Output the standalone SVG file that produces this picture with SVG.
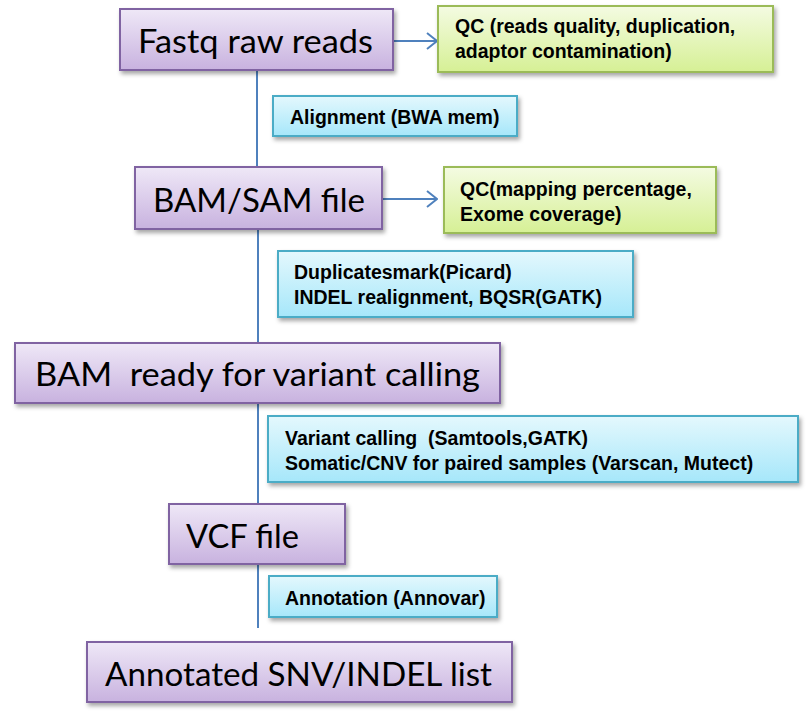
<svg xmlns="http://www.w3.org/2000/svg" width="807" height="714" viewBox="0 0 807 714">
<defs>
<linearGradient id="gp" x1="0" y1="0" x2="0" y2="1"><stop offset="0" stop-color="#efe8f7"/><stop offset="1" stop-color="#c8b2df"/></linearGradient>
<linearGradient id="gg" x1="0" y1="0" x2="0" y2="1"><stop offset="0" stop-color="#f4fbe2"/><stop offset="1" stop-color="#d6f095"/></linearGradient>
<linearGradient id="gb" x1="0" y1="0" x2="0" y2="1"><stop offset="0" stop-color="#e4f8fd"/><stop offset="1" stop-color="#a6e7fa"/></linearGradient>
<filter id="sh" x="-10%" y="-20%" width="120%" height="150%"><feDropShadow dx="2" dy="3" stdDeviation="2" flood-color="#000" flood-opacity="0.35"/></filter>
<marker id="chev" viewBox="0 0 12 18" refX="11" refY="9" markerWidth="12" markerHeight="18" markerUnits="userSpaceOnUse" orient="auto"><path d="M1,1 L11,9 L1,17" fill="none" stroke="#4f81bd" stroke-width="2"/></marker>
</defs>
<style>
.p{fill:url(#gp);stroke:#8064a2;stroke-width:2;filter:url(#sh)}
.g{fill:url(#gg);stroke:#9bbb59;stroke-width:2;filter:url(#sh)}
.b{fill:url(#gb);stroke:#4bacc6;stroke-width:2;filter:url(#sh)}
.big{font-family:Lato,"Open Sans",sans-serif;font-size:33px;fill:#000;white-space:pre}
.sm{font-family:"Liberation Sans",Arial,sans-serif;font-weight:bold;font-size:19.5px;fill:#000;white-space:pre}
.c{stroke:#4f81bd;stroke-width:2;fill:none}
</style>
<g id="connectors">
<line class="c" x1="257" y1="70" x2="257" y2="167"/>
<line class="c" x1="258" y1="229" x2="258" y2="343"/>
<line class="c" x1="258" y1="403" x2="258" y2="504"/>
<line class="c" x1="258" y1="564" x2="258" y2="628"/>
<line class="c" x1="393" y1="41" x2="437" y2="41" marker-end="url(#chev)"/>
<line class="c" x1="382" y1="199" x2="437" y2="199" marker-end="url(#chev)"/>
</g>
<g id="n-fastq"><rect class="p" x="120" y="9" width="273" height="61"/><text class="big" x="138" y="53" textLength="235" lengthAdjust="spacingAndGlyphs">Fastq raw reads</text></g>
<g id="n-qc1"><rect class="g" x="438" y="6" width="335" height="66"/><text class="sm" x="455" y="33">QC (reads quality, duplication,</text><text class="sm" x="455" y="58">adaptor contamination)</text></g>
<g id="n-align"><rect class="b" x="273" y="96" width="244" height="40"/><text class="sm" x="290" y="124">Alignment (BWA mem)</text></g>
<g id="n-bamsam"><rect class="p" x="135" y="167" width="247" height="62"/><text class="big" x="153" y="212" textLength="212" lengthAdjust="spacingAndGlyphs">BAM/SAM file</text></g>
<g id="n-qc2"><rect class="g" x="444" y="167" width="272" height="66"/><text class="sm" x="460" y="196">QC(mapping percentage,</text><text class="sm" x="460" y="221">Exome coverage)</text></g>
<g id="n-dup"><rect class="b" x="278" y="251" width="355" height="66"/><text class="sm" x="294" y="279">Duplicatesmark(Picard)</text><text class="sm" x="294" y="304">INDEL realignment, BQSR(GATK)</text></g>
<g id="n-bamready"><rect class="p" x="15" y="343" width="485" height="60"/><text class="big" x="35" y="386" textLength="445" lengthAdjust="spacingAndGlyphs">BAM  ready for variant calling</text></g>
<g id="n-variant"><rect class="b" x="268" y="416" width="530" height="66"/><text class="sm" x="285" y="445">Variant calling  (Samtools,GATK)</text><text class="sm" x="285" y="470">Somatic/CNV for paired samples (Varscan, Mutect)</text></g>
<g id="n-vcf"><rect class="p" x="169" y="504" width="176" height="60"/><text class="big" x="186" y="548" textLength="113" lengthAdjust="spacingAndGlyphs">VCF file</text></g>
<g id="n-annot"><rect class="b" x="269" y="576" width="228" height="41"/><text class="sm" x="285" y="605">Annotation (Annovar)</text></g>
<g id="n-final"><rect class="p" x="87" y="642" width="425" height="60"/><text class="big" x="105" y="686" textLength="387" lengthAdjust="spacingAndGlyphs">Annotated SNV/INDEL list</text></g>
</svg>
